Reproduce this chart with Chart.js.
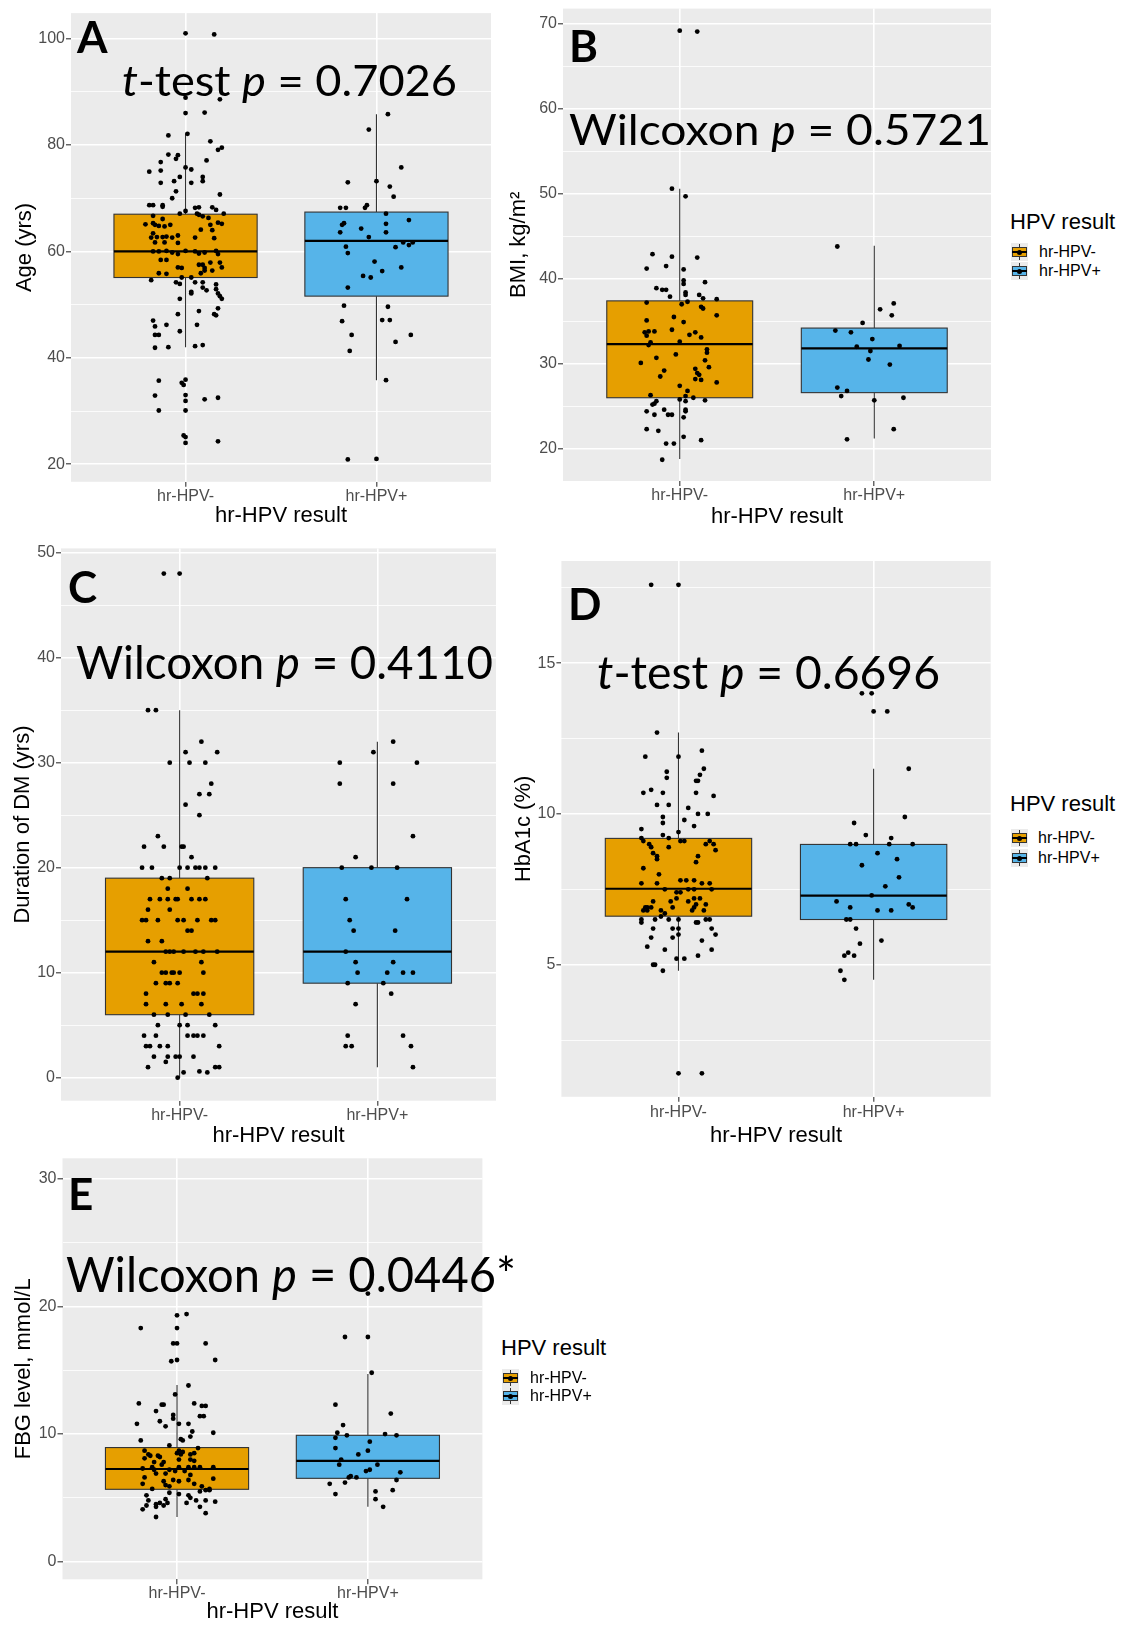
<!DOCTYPE html>
<html>
<head>
<meta charset="utf-8">
<script src="https://cdn.jsdelivr.net/npm/chart.js@4.4.1/dist/chart.umd.min.js"></script>
<style>
  body { margin: 0; background: #fff; width: 1121px; height: 1625px; position: relative; overflow: hidden; }
  canvas { position: absolute; }
  .lbl { position: absolute; font-family: Lato, "Open Sans", sans-serif; color: #000; white-space: nowrap; line-height: 1; transform-origin: 0 0; }
  .letter { font-weight: 700; }
  .bl { display: inline-block; width: 0; height: 0; }
  .lg { position: absolute; font-family: "Liberation Sans", Arial, sans-serif; color: #000; white-space: nowrap; }
  .key { position: absolute; width: 17px; height: 18px; background: #EBEBEB; }
  .key .wh { position: absolute; left: 8px; top: 1px; width: 1px; height: 16px; background: #333; }
  .key .bx { position: absolute; left: 1px; top: 4px; width: 13px; height: 8px; border: 1px solid #333; }
  .key .md { position: absolute; left: 1px; top: 8px; width: 15px; height: 2px; background: #000; }
  .key .dt { position: absolute; left: 6px; top: 7px; width: 5px; height: 5px; border-radius: 50%; background: #000; }
</style>
</head>
<body>
<script>
const groups = ["hr-HPV-", "hr-HPV+"];
const boxColors = ["#E69F00", "#56B4E9"];

// each point: [jitter offset from the group centre, value]
// box stats: [lower whisker, Q1, median, Q3, upper whisker]

// A - age
const ageNeg = [[0,101.0],[0.15,100.8],[0,88.9],[0.18,88.6],[0,86.0],[0.10,86.1],[-0.09,81.8],[0.01,82.1],[0.13,80.7],[0.19,79.5],[0.17,79.1],[-0.09,78.2],[-0.04,78.1],[-0.05,77.4],[-0.13,76.8],[0.11,77.1],[0,75.8],[0.03,75.4],[-0.19,75.0],[-0.13,75.2],[-0.03,74.0],[0.09,74.0],[0.09,73.2],[-0.06,73.2],[-0.13,72.9],[0.03,72.9],[-0.05,71.3],[0.18,70.7],[-0.07,70.0],[-0.19,68.7],[-0.17,68.7],[-0.12,68.7],[-0.12,68.4],[0,67.6],[0.05,68.2],[0.07,68.3],[0.14,68.3],[0.16,67.8],[0.20,67.1],[-0.03,67.1],[0.06,67.1],
  [-0.17,66.7],[-0.12,66.1],[0.07,66.9],[0.12,66.3],[0.09,66.6],[-0.21,65.1],[-0.17,65.3],[-0.16,65.0],[-0.14,64.8],[-0.11,64.7],[-0.08,65.0],[0.08,64.1],[0.13,65.0],[0.17,65.4],[0.19,65.2],[-0.17,63.4],[-0.15,62.7],[-0.12,62.7],[-0.10,62.8],[-0.07,62.6],[-0.04,63.0],[0.05,62.6],[0.14,64.0],[0.15,62.5],[-0.18,62.6],[-0.16,61.7],[-0.11,61.7],[-0.04,61.6],[-0.04,59.5],[0,60.1],[-0.17,60.0],[-0.14,60.0],[-0.10,60.1],[-0.07,59.8],[0.05,60.0],[0.07,59.6],[0.10,59.8],[0.16,60.1],[0.17,59.5],[-0.13,58.4],[-0.10,58.4],[-0.04,57.0],[-0.02,56.9],[0.07,57.5],[0.09,57.5],[0.10,56.9],[0.13,57.9],[0.18,57.9],[-0.14,55.9],[-0.10,55.8],[-0.02,55.1],[0.03,55.1],[0.08,55.9],[0.10,56.4],[0.14,56.4],[0.19,57.0],[-0.18,54.6],[-0.05,54.2],[-0.03,53.9],[0.05,54.2],[0.09,54.2],[0.16,53.8],
  [0.03,52.1],[0.16,52.9],[0.17,52.1],[0.18,51.6],[0.19,51.1],[0.09,53.2],[0.11,52.7],[-0.03,51.1],[0.03,52.4],[0.07,48.8],[0.17,49.3],[-0.04,48.2],[0.15,48.2],[0.16,48.0],[-0.17,47.0],[-0.16,45.9],[-0.10,46.2],[-0.03,45.0],[0.06,46.2],[-0.16,44.3],[-0.14,44.3],[-0.09,42.0],[-0.16,41.9],[0.05,42.2],[0.09,42.4],[-0.14,35.7],[-0.02,35.3],[0,35.9],[-0.01,34.9],[-0.16,32.9],[0,33.0],[0,31.9],[0.10,32.2],[0.17,32.5],[-0.14,30.1],[0,30.1],[-0.01,25.4],[0,24.0],[0.17,24.3],[0,25.1]];
const agePos = [[0.06,85.8],[-0.04,82.9],[0.13,75.8],[-0.15,73.0],[0,73.2],[0.07,72.2],[0.09,70.3],[-0.19,68.2],[-0.16,68.2],[-0.06,68.2],[-0.05,68.7],[0.05,67.1],[0.17,65.9],[-0.17,65.3],[-0.18,65.0],[0.05,65.2],[-0.08,64.3],[-0.19,63.6],[0.05,63.6],[-0.04,62.7],[0.14,61.7],[0.17,61.2],[0.19,61.7],[0.10,60.8],[-0.16,60.9],[-0.15,59.7],[-0.01,58.1],[0.03,56.3],[0.13,57.0],[-0.07,55.4],[-0.03,55.1],[-0.15,53.2],[-0.17,49.8],[0.06,49.6],[-0.18,46.9],[0.03,47.1],[0.07,47.1],[-0.13,44.3],[0.18,44.3],[0.10,43.0],[-0.14,41.3],[0.05,35.8],[-0.15,20.9],[0,21.0]];
const ageBoxNeg = [42.0, 55.1, 60.0, 67.0, 82.1];
const ageBoxPos = [35.8, 51.6, 62.0, 67.4, 85.8];

// B - BMI
const bmiNeg = [[0,69.2],[0.09,69.1],[-0.04,50.6],[0.03,49.7],[-0.14,42.9],[-0.04,42.6],[0.09,42.5],[-0.07,41.5],[-0.17,41.2],[0.02,41.1],[0.02,39.8],[0.13,39.6],[0.02,39.4],[-0.12,38.9],[-0.09,38.7],[-0.07,38.7],[0.03,38.4],[0.03,38.1],[-0.05,37.9],[0.10,38.1],[0.12,37.7],[0.19,37.6],[0.04,37.3],[-0.17,37.2],[0.01,37.0],[0.11,36.7],[0.12,36.5],[0.19,35.7],[-0.03,35.5],[-0.17,35.1],[0.02,34.9],[-0.04,34.0],[-0.18,33.7],[-0.16,33.8],[-0.13,33.8],[-0.17,33.3],[0.08,33.7],[0.05,33.4],[0.11,33.1],[-0.15,32.5],[-0.16,32.2],[0,32.6],[0.14,31.7],[0.14,31.3],[-0.02,31.1],[-0.12,30.7],[-0.20,30.1],[0.13,30.4],[0.15,29.6],[-0.08,29.2],[0.08,29.4],[0.09,28.9],[0.10,28.7],[-0.10,28.5],[0.08,28.2],[0.11,28.1],[0.19,27.8],[0,27.4],[0.04,26.8],[-0.15,26.3],[0.03,26.2],[0,25.8],[0.07,26.0],[0.13,25.7],[-0.12,25.6],[-0.13,25.3],[-0.14,25.2],[0.03,25.6],[0.03,24.6],[-0.08,24.6],[0.03,24.4],[-0.17,24.4],[-0.13,24.0],[-0.06,24.0],[-0.04,24.0],[0.02,23.7],[-0.17,22.3],[-0.11,22.1],[0.02,21.4],[0.11,21.0],[-0.07,20.6],[-0.03,20.6],[-0.09,18.7]];
const bmiPos = [[-0.19,43.8],[0.03,36.4],[0.10,37.1],[0.09,35.7],[-0.06,34.8],[-0.20,33.9],[-0.12,33.7],[-0.01,32.9],[-0.09,32.0],[0.13,32.1],[-0.02,31.5],[-0.03,30.5],[0.08,29.9],[-0.19,27.2],[-0.14,26.8],[-0.17,26.2],[0.15,26.0],[0,25.7],[0.10,22.3],[-0.14,21.1]];
const bmiBoxNeg = [18.8, 26.0, 32.3, 37.4, 50.6];
const bmiBoxPos = [21.2, 26.6, 31.8, 34.2, 43.9];

// C - duration of DM
const dmNeg = [[-0.08,48],[0,48],[-0.16,35],[-0.12,35],[0.11,32],[0.03,31],[0.19,31],[-0.05,30],[0.05,30],[0.13,30],[0.16,28],[0.10,27],[0.15,27],[0.03,26],[0.10,25],[-0.11,23],[-0.18,22],[-0.08,22],[0.01,22],[0.02,22],[0.06,21],[-0.19,20],[-0.14,20],[0,20],[0.04,20],[0.08,20],[0.10,20],[0.13,20],[0.18,20],[-0.09,19],[-0.05,19],[0.14,19],[-0.06,18],[0.04,18],[-0.15,17],[-0.10,17],[-0.06,17],[-0.02,17],[-0.01,17],[0.06,17],[0.10,17],[0.13,17],[-0.16,16],[-0.05,16],[-0.19,15],[-0.17,15],[-0.11,15],[-0.01,15],[0.02,15],[0.09,15],[0.16,15],[0.18,15],[0.04,14],[0.06,14],[-0.16,13],[-0.09,13],[-0.07,12],[-0.05,12],[-0.03,12],[0.02,12],[0.08,12],[0.12,12],[0.19,12],[-0.13,11],[0.11,11],[-0.09,10],[-0.07,10],[-0.04,10],[-0.03,10],[0,10],[0.12,10],[-0.12,9],[-0.07,9],[-0.05,9],[-0.01,9],[-0.17,8],[0.07,8],[0.09,8],[0.12,8],[-0.17,7],[-0.07,7],[0.01,7],[0.11,7],[-0.13,6],[-0.06,6],[0.03,6],[0.15,6],[-0.11,5],[0,5],[0.04,5],[0.18,5],[-0.18,4],[-0.12,4],[0.04,4],[0.07,4],[0.09,4],[0.12,4],[-0.17,3],[-0.15,3],[-0.10,3],[-0.06,3],[0.20,3],[-0.13,2],[-0.06,2],[-0.02,2],[0,2],[0.07,2],[-0.07,1.5],[-0.16,1],[0.10,0.6],[0.18,1],[0.20,1],[0.02,0.5],[0.14,0.5],[-0.01,0]];
const dmPos = [[0.08,32],[-0.02,31],[-0.19,30],[0.20,30],[-0.19,28],[0.08,28],[0.18,23],[-0.11,21],[-0.18,20],[-0.03,20],[0.10,20],[-0.16,17],[0.15,17],[-0.14,15],[-0.12,14],[0.09,14],[-0.16,12],[-0.11,11],[0.08,11],[-0.10,10],[0.05,10],[0.13,10],[0.18,10],[-0.15,9],[0.03,9],[0.07,8],[-0.11,7],[-0.15,4],[0.13,4],[-0.16,3],[-0.13,3],[0.17,3],[0.18,1]];
const dmBoxNeg = [0, 6, 12, 19, 35];
const dmBoxPos = [1, 9, 12, 20, 32];

// D - HbA1c
const hbNeg = [[-0.14,17.6],[0,17.6],[-0.11,12.7],[0.12,12.1],[-0.17,11.9],[0,11.9],[0.13,11.5],[-0.06,11.4],[-0.06,11.2],[0.09,11.1],[0.11,11.3],[0.10,11.1],[-0.18,10.7],[-0.14,10.8],[-0.08,10.7],[0.09,10.7],[0.18,10.6],[-0.11,10.3],[-0.05,10.3],[0.05,10.2],[0.10,10.0],[0.15,10.0],[-0.08,9.9],[-0.08,9.7],[0.03,9.8],[0.08,9.6],[-0.19,9.5],[0,9.4],[-0.08,9.3],[-0.19,9.2],[-0.18,9.1],[-0.05,9.2],[0.01,9.1],[0.03,9.1],[0.14,9.0],[-0.15,9.0],[-0.14,8.9],[-0.05,8.9],[0.18,9.0],[0.16,9.1],[0.19,8.8],[-0.13,8.7],[-0.11,8.6],[-0.11,8.5],[0.10,8.6],[0.09,8.4],[-0.18,8.2],[-0.10,8.0],[-0.19,7.7],[-0.11,7.7],[0.01,7.8],[0.04,7.8],[0.08,7.8],[0.12,7.7],[0.16,7.7],[-0.07,7.5],[-0.01,7.4],[0.01,7.4],[0.05,7.5],[0.08,7.5],[0.17,7.5],[-0.01,7.2],[-0.04,7.1],[-0.13,7.1],[0.05,7.1],[0.08,7.2],[0.11,7.2],[-0.16,6.9],[-0.17,6.9],[-0.14,6.9],[-0.03,6.9],[0.08,6.9],[0.09,7.0],[0.14,7.0],[-0.18,6.8],[-0.16,6.8],[-0.09,6.8],[-0.07,6.7],[0.07,6.8],[0.13,6.8],[-0.09,6.6],[-0.19,6.5],[-0.12,6.5],[-0.05,6.5],[0,6.5],[0.14,6.5],[0.16,6.5],[-0.19,6.4],[0.09,6.4],[0.10,6.4],[-0.03,6.2],[0,6.2],[-0.13,6.2],[0.17,6.2],[0.19,6.0],[0,6.0],[-0.14,5.9],[-0.03,5.9],[0.12,5.8],[-0.16,5.6],[-0.07,5.5],[0.17,5.5],[0.10,5.3],[-0.01,5.2],[0.03,5.2],[-0.13,5.0],[-0.12,5.0],[-0.08,4.8],[0,1.4],[0.12,1.4]];
const hbPos = [[-0.06,14.0],[-0.01,14.0],[0,13.4],[0.07,13.4],[0.18,11.5],[0.16,9.9],[-0.10,9.7],[-0.04,9.3],[0.09,9.2],[-0.12,9.0],[-0.09,9.0],[0.08,9.0],[0.20,9.0],[0.02,8.7],[0.12,8.5],[-0.06,8.3],[0.13,7.9],[0.06,7.6],[-0.01,7.3],[-0.19,7.1],[0.18,7.0],[0.20,6.9],[-0.12,6.9],[0.02,6.8],[0.09,6.8],[-0.14,6.5],[-0.12,6.5],[-0.09,6.2],[-0.07,5.7],[0.04,5.8],[-0.13,5.4],[-0.10,5.3],[-0.15,5.3],[-0.17,4.8],[-0.15,4.5]];
const hbBoxNeg = [4.8, 6.61, 7.52, 9.19, 12.7];
const hbBoxPos = [4.5, 6.5, 7.29, 8.99, 11.5];

// E - FBG
const fbgNeg = [[0,19.3],[0.05,19.4],[-0.19,18.3],[0,18.3],[-0.02,17.1],[0,17.1],[0.15,17.1],[-0.03,15.7],[0,15.8],[0.20,15.8],[0.06,13.8],[-0.01,13.1],[-0.20,12.4],[-0.08,12.3],[-0.07,12.3],[0.09,12.4],[0.15,12.2],[0.13,12.2],[-0.11,11.8],[-0.02,11.5],[0.14,11.4],[0.12,11.4],[-0.02,11.2],[-0.09,11.0],[-0.21,10.8],[-0.06,10.6],[0.01,10.8],[0.06,10.8],[0.08,10.2],[0.19,10.1],[0.07,9.8],[0.02,9.6],[0.03,9.5],[-0.19,9.5],[-0.04,9.1],[0.11,8.9],[-0.17,8.7],[0.01,8.7],[0.03,8.6],[0.09,8.5],[-0.15,8.4],[-0.14,8.3],[-0.10,8.3],[-0.09,8.2],[0,8.5],[0.02,8.4],[0.07,8.4],[-0.17,8.1],[-0.12,7.8],[-0.07,7.8],[0.01,8.0],[0.09,7.9],[0.07,8.0],[-0.08,7.6],[-0.18,7.3],[-0.13,7.4],[-0.12,7.2],[-0.04,7.2],[-0.01,7.1],[0.01,7.4],[0.04,7.1],[0.06,7.4],[0.09,7.4],[0.12,7.4],[0.19,7.4],[-0.11,6.9],[-0.06,6.9],[0.07,6.8],[-0.17,6.6],[0.19,6.5],[-0.07,6.3],[-0.02,6.4],[0.01,6.3],[0.06,6.4],[0.09,6.1],[-0.18,6.1],[-0.06,6.0],[-0.04,5.9],[0.13,5.9],[0.17,5.7],[-0.13,5.7],[0.15,5.6],[0.12,5.5],[0.17,5.6],[-0.04,5.4],[0.01,5.3],[0.06,5.2],[0.07,5.0],[-0.16,5.2],[-0.15,4.8],[0.10,4.8],[0.15,4.8],[-0.06,4.9],[-0.09,4.6],[-0.05,4.6],[0.05,4.6],[0.20,4.7],[-0.11,4.5],[-0.07,4.4],[0.12,4.3],[-0.18,4.1],[-0.16,4.4],[-0.11,4.3],[0.15,3.8],[-0.11,3.5]];
const fbgPos = [[0,21.0],[-0.12,17.6],[0,17.6],[0.02,14.8],[-0.17,12.3],[0.12,11.6],[-0.13,10.7],[-0.16,10.1],[-0.11,9.9],[0.09,10.0],[0.15,9.9],[-0.17,9.7],[0.01,9.4],[-0.17,8.9],[0,8.7],[-0.05,8.4],[-0.14,8.0],[-0.15,7.6],[0.05,7.6],[0.01,7.2],[-0.01,7.1],[0.17,7.0],[-0.09,6.7],[-0.06,6.6],[-0.10,6.6],[-0.12,6.2],[0.15,6.4],[-0.20,6.1],[0.04,5.5],[0.13,5.6],[-0.17,5.3],[0.04,4.9],[0.08,4.3]];
const fbgBoxNeg = [3.5, 5.67, 7.26, 8.94, 13.85];
const fbgBoxPos = [4.3, 6.53, 7.89, 9.90, 14.7];

Chart.defaults.font.family = "'Liberation Sans', Arial, sans-serif";

// grey panel behind the grid
const panelBg = {
  id: "panelBg",
  beforeDraw(chart) {
    const { ctx, chartArea: a } = chart;
    ctx.save();
    ctx.fillStyle = "#EBEBEB";
    ctx.fillRect(a.left, a.top, a.right - a.left, a.bottom - a.top);
    ctx.restore();
  }
};

// boxes + whiskers drawn with the chart's own scales
function boxPlugin(stats) {
  return {
    id: "boxes",
    beforeDatasetsDraw(chart) {
      const { ctx, scales: { x, y } } = chart;
      stats.forEach((s, i) => {
        const c = i + 1;
        const xl = x.getPixelForValue(c - 0.375);
        const xr = x.getPixelForValue(c + 0.375);
        const xc = x.getPixelForValue(c);
        const [lo, q1, md, q3, hi] = s.map(v => y.getPixelForValue(v));
        ctx.save();
        ctx.strokeStyle = "#333";
        ctx.lineWidth = 1.1;
        ctx.beginPath();
        ctx.moveTo(xc, lo); ctx.lineTo(xc, q1);
        ctx.moveTo(xc, q3); ctx.lineTo(xc, hi);
        ctx.stroke();
        ctx.fillStyle = boxColors[i];
        ctx.fillRect(xl, q3, xr - xl, q1 - q3);
        ctx.strokeRect(xl, q3, xr - xl, q1 - q3);
        ctx.strokeStyle = "#000";
        ctx.lineWidth = 2.2;
        ctx.beginPath();
        ctx.moveTo(xl, md); ctx.lineTo(xr, md);
        ctx.stroke();
        ctx.restore();
      });
    }
  };
}

function makePanel(p) {
  const [cl, ct, cw, ch] = p.canvas;
  const [pl, pt, pr, pb] = p.plot;
  const cv = document.createElement("canvas");
  cv.width = cw; cv.height = ch;
  cv.style.left = cl + "px"; cv.style.top = ct + "px";
  document.body.appendChild(cv);
  const isMajor = v => Math.abs(v / p.major - Math.round(v / p.major)) < 1e-6;

  new Chart(cv, {
    type: "scatter",
    data: {
      datasets: [p.neg, p.pos].map((pts, i) => ({
        data: pts.map(d => ({ x: i + 1 + d[0], y: d[1] })),
        pointRadius: 2.4,
        pointHoverRadius: 2.4,
        pointBackgroundColor: "#000",
        pointBorderWidth: 0
      }))
    },
    options: {
      responsive: false,
      animation: false,
      events: [],
      layout: { padding: { left: 0, top: pt - ct, right: cl + cw - pr, bottom: 0 } },
      plugins: { legend: { display: false }, tooltip: { enabled: false } },
      scales: {
        x: {
          type: "linear", min: 0.4, max: 2.6,
          afterFit: s => { s.height = ct + ch - pb; s.paddingLeft = 0; s.paddingRight = 0; },
          border: { display: false },
          grid: { color: "#fff", lineWidth: 1.6, tickLength: 5, tickColor: "#333", tickWidth: 1.1 },
          ticks: {
            stepSize: 1, includeBounds: false, autoSkip: false, maxRotation: 0,
            padding: p.xPad, color: "#4D4D4D", font: { size: 16 },
            callback: v => groups[v - 1] || ""
          },
          title: { display: true, text: "hr-HPV result", color: "#000", font: { size: 22 }, padding: { top: 0, bottom: p.xTitlePad } }
        },
        y: {
          min: p.yMin, max: p.yMax,
          afterFit: s => { s.width = pl - cl; s.paddingTop = 0; s.paddingBottom = 0; },
          border: { display: false },
          grid: {
            color: "#fff",
            lineWidth: c => (c.tick && isMajor(c.tick.value) ? 1.6 : 0.8),
            tickLength: 5,
            tickColor: c => (c.tick && isMajor(c.tick.value) ? "#333" : "rgba(0,0,0,0)"),
            tickWidth: 1.1
          },
          ticks: {
            stepSize: p.major / 2, includeBounds: false, autoSkip: false,
            padding: 1, color: "#4D4D4D", font: { size: 16 },
            callback: v => (isMajor(v) ? String(v) : "")
          },
          title: { display: true, text: p.yTitle, color: "#000", font: { size: 22 }, padding: { top: p.yTitlePad, bottom: 0 } }
        }
      }
    },
    plugins: [panelBg, boxPlugin([p.boxNeg, p.boxPos])]
  });
}

makePanel({ canvas: [0, 0, 500, 540], plot: [71, 13.1, 491, 481.8], yMin: 16.7, yMax: 104.8, major: 20,
  yTitle: "Age (yrs)", yTitlePad: 11.8, xPad: 0, xTitlePad: 10.6, neg: ageNeg, pos: agePos, boxNeg: ageBoxNeg, boxPos: ageBoxPos });
makePanel({ canvas: [480, 0, 520, 540], plot: [563, 8.6, 991, 481], yMin: 16.2, yMax: 71.8, major: 10,
  yTitle: "BMI, kg/m²", yTitlePad: 25.6, xPad: 0, xTitlePad: 10.3, neg: bmiNeg, pos: bmiPos, boxNeg: bmiBoxNeg, boxPos: bmiBoxPos });
makePanel({ canvas: [0, 530, 510, 620], plot: [61, 548.4, 496, 1100.7], yMin: -2.19, yMax: 50.4, major: 10,
  yTitle: "Duration of DM (yrs)", yTitlePad: 9.8, xPad: 0, xTitlePad: 0.8, neg: dmNeg, pos: dmPos, boxNeg: dmBoxNeg, boxPos: dmBoxPos });
makePanel({ canvas: [500, 545, 500, 605], plot: [561.4, 561, 990.7, 1096.8], yMin: 0.62, yMax: 18.39, major: 5,
  yTitle: "HbA1c (%)", yTitlePad: 10.8, xPad: 1, xTitlePad: 0.8, neg: hbNeg, pos: hbPos, boxNeg: hbBoxNeg, boxPos: hbBoxPos });
makePanel({ canvas: [0, 1145, 500, 480], plot: [62.5, 1158.3, 482.4, 1579.3], yMin: -1.38, yMax: 31.6, major: 10,
  yTitle: "FBG level, mmol/L", yTitlePad: 10.8, xPad: 0, xTitlePad: 0, neg: fbgNeg, pos: fbgPos, boxNeg: fbgBoxNeg, boxPos: fbgBoxPos });

// annotation text, placed by baseline and stretched to the measured width
function placeText(html, cls, left, baseline, size, width) {
  const d = document.createElement("div");
  d.className = "lbl " + cls;
  d.style.fontSize = size + "px";
  d.innerHTML = html + '<span class="bl"></span>';
  document.body.appendChild(d);
  const base = d.querySelector(".bl").offsetTop;
  d.style.left = left + "px";
  d.style.top = (baseline - base) + "px";
  if (width) {
    const w = d.getBoundingClientRect().width;
    d.style.transform = "scaleX(" + (width / w) + ")";
  }
}

placeText("A", "letter", 77, 52.5, 44);
placeText("B", "letter", 569, 62, 44);
placeText("C", "letter", 68, 603, 44);
placeText("D", "letter", 568, 620, 44);
placeText("E", "letter", 68, 1210, 44);

placeText("<i>t</i>-test <i>p</i> = 0.7026", "", 122, 96, 43, 335);
placeText("Wilcoxon <i>p</i> = 0.5721", "", 569, 144.6, 43, 422);
placeText("Wilcoxon <i>p</i> = 0.4110", "", 76, 678.5, 46, 417);
placeText("<i>t</i>-test <i>p</i> = 0.6696", "", 597, 689, 46, 343);
placeText("Wilcoxon <i>p</i> = 0.0446*", "", 66, 1291.7, 48, 450);

// ggplot-style legends
function legend(titleLeft, titleCenter, keyLeft, textLeft, rows) {
  const t = document.createElement("div");
  t.className = "lg";
  t.style.cssText = "left:" + titleLeft + "px;top:" + (titleCenter - 13) + "px;font-size:22px;line-height:26px;";
  t.textContent = "HPV result";
  document.body.appendChild(t);
  rows.forEach((cy, i) => {
    const k = document.createElement("div");
    k.className = "key";
    k.style.left = keyLeft + "px";
    k.style.top = (cy - 9) + "px";
    k.innerHTML = '<div class="wh"></div><div class="bx" style="background:' + boxColors[i] + '"></div><div class="md"></div><div class="dt"></div>';
    document.body.appendChild(k);
    const s = document.createElement("div");
    s.className = "lg";
    s.style.cssText = "left:" + textLeft + "px;top:" + (cy - 10) + "px;font-size:16px;line-height:20px;";
    s.textContent = groups[i];
    document.body.appendChild(s);
  });
}

legend(1010, 222, 1011, 1039, [252, 271]);
legend(1010, 804, 1011, 1038, [838, 858]);
legend(501, 1348, 502, 530, [1378, 1396]);
</script>
</body>
</html>
